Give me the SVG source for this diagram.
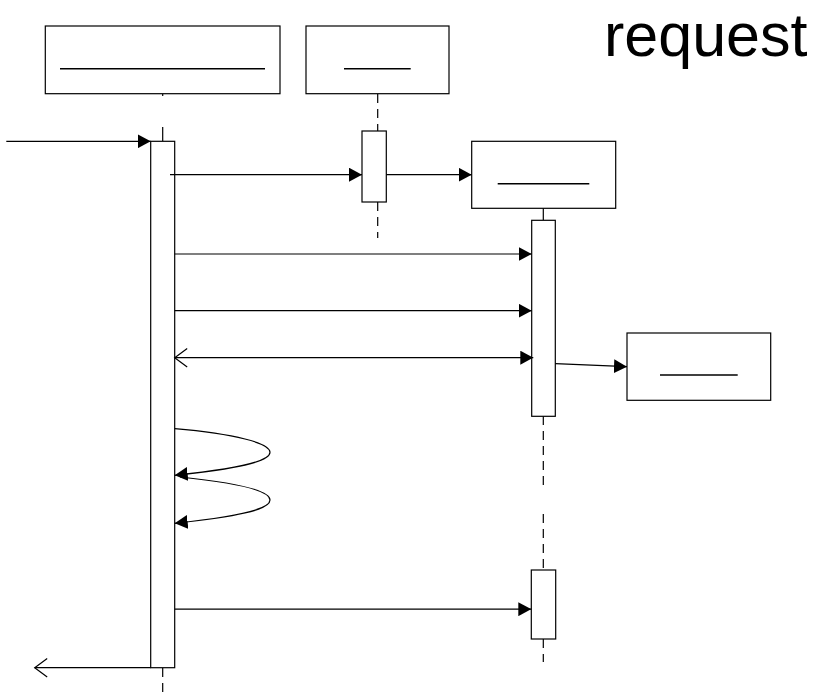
<svg xmlns="http://www.w3.org/2000/svg" width="824" height="693" viewBox="0 0 824 693">
<style>
.box{fill:#fff;stroke:#000;stroke-width:1.2}
.act{fill:#fff;stroke:#000;stroke-width:1.2}
.name{stroke:#000;stroke-width:1.4}
.life{stroke:#000;stroke-width:1.2;stroke-dasharray:9 6;fill:none}
.msg{stroke:#000;stroke-width:1.2;fill:none}
.title{font-family:"Liberation Sans",Arial,sans-serif;font-size:61px;fill:#000}
</style>
<defs>
<marker id="fa" viewBox="0 0 13 14" markerWidth="13" markerHeight="14" refX="13" refY="7" orient="auto" markerUnits="userSpaceOnUse">
<path d="M0,0 L13,7 L0,14 z" fill="#000"/>
</marker>
<marker id="oa" viewBox="0 0 13 20" markerWidth="13" markerHeight="20" refX="12.5" refY="10" orient="auto-start-reverse" markerUnits="userSpaceOnUse" overflow="visible">
<path d="M0,0.8 L12.5,10 L0,19.2" fill="none" stroke="#000" stroke-width="1.2"/>
</marker>
</defs>
<rect width="824" height="693" fill="#fff"/>
<text class="title" x="604" y="55.5">request</text>

<g id="lifelines">
<line class="msg" x1="162.7" y1="94" x2="162.7" y2="96"/>
<line class="msg" x1="162.7" y1="127" x2="162.7" y2="141"/>
<path class="life" d="M162.7,668 V693"/>
<path class="life" d="M377.7,94 V131"/>
<path class="life" d="M377.7,202 V238"/>
<line class="msg" x1="543.3" y1="208" x2="543.3" y2="220"/>
<path class="life" d="M543.3,416 V487"/>
<path class="life" d="M543.3,514 V570"/>
<path class="life" d="M543.3,639 V662"/>
</g>

<g id="node1">
<rect class="box" x="45.3" y="26" width="234.7" height="67.7"/>
<line class="name" x1="60" y1="68.7" x2="265" y2="68.7"/>
</g>
<g id="node2">
<rect class="box" x="306" y="26" width="143" height="67.7"/>
<line class="name" x1="344" y1="68.7" x2="410.7" y2="68.7"/>
</g>
<g id="node3">
<rect class="box" x="471.7" y="141.3" width="144" height="67"/>
<line class="name" x1="497.7" y1="183.7" x2="589.3" y2="183.7"/>
</g>
<g id="node4">
<rect class="box" x="627" y="333" width="143.7" height="67.3"/>
<line class="name" x1="660" y1="375" x2="737.7" y2="375"/>
</g>

<g id="activations">
<rect class="act" x="150.7" y="141.3" width="24" height="526.4"/>
<rect class="act" x="362" y="131" width="24.3" height="71"/>
<rect class="act" x="531.7" y="220.3" width="23.6" height="196"/>
<rect class="act" x="531.3" y="570" width="24.4" height="69"/>
</g>

<g id="connectors">
<line class="msg" x1="6.3" y1="141.3" x2="150.7" y2="141.3" marker-end="url(#fa)"/>
<line class="msg" x1="170" y1="174.7" x2="362" y2="174.7" marker-end="url(#fa)"/>
<line class="msg" x1="386.3" y1="174.7" x2="471.7" y2="174.7" marker-end="url(#fa)"/>
<line class="msg" x1="174.7" y1="254" x2="531.7" y2="254" marker-end="url(#fa)"/>
<line class="msg" x1="174.7" y1="310.7" x2="531.7" y2="310.7" marker-end="url(#fa)"/>
<line class="msg" x1="174.7" y1="357.7" x2="533.3" y2="357.7" marker-start="url(#oa)" marker-end="url(#fa)"/>
<line class="msg" x1="555.3" y1="363.7" x2="627" y2="366.7" marker-end="url(#fa)"/>
<path class="msg" d="M174.7,428.7 C235,434 270,443 270,452.3 C270,462 235,469 174.7,475.3" marker-end="url(#fa)"/>
<path class="msg" d="M180,477 C238,483 270,491 270,500 C270,510 235,517 174.7,523.3" marker-end="url(#fa)"/>
<line class="msg" x1="174.7" y1="609.2" x2="531.3" y2="609.2" marker-end="url(#fa)"/>
<line class="msg" x1="150.7" y1="667.7" x2="34.7" y2="667.7" marker-end="url(#oa)"/>
</g>
</svg>
